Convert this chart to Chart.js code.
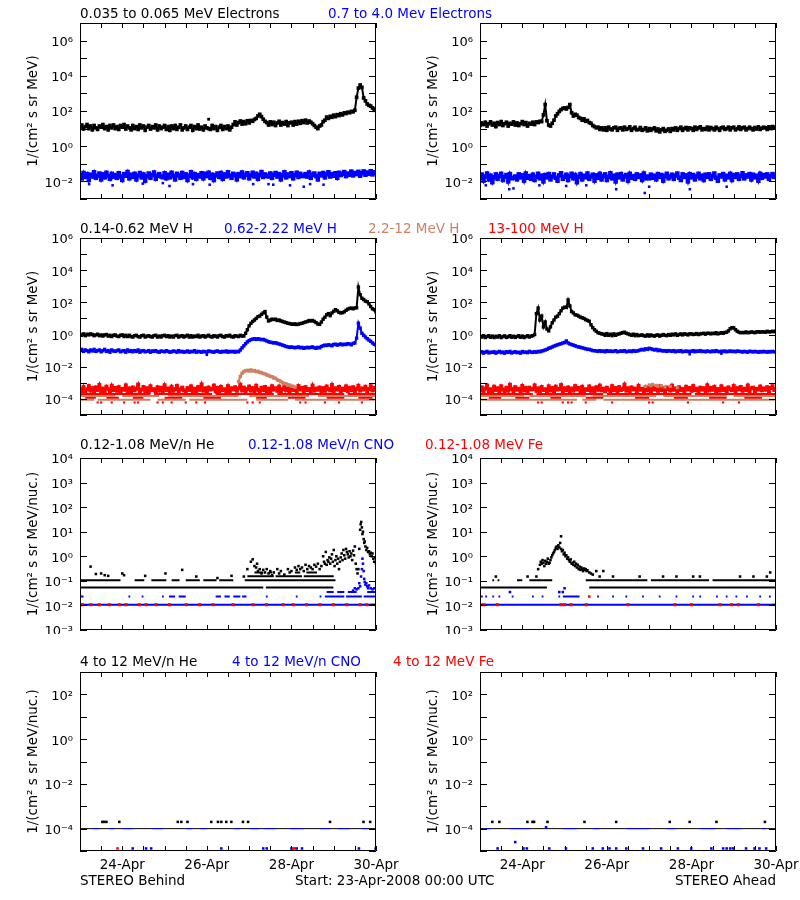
<!DOCTYPE html>
<html><head><meta charset="utf-8">
<script src="https://cdn.jsdelivr.net/npm/chart.js@4.4.1/dist/chart.umd.min.js"></script>
<style>
body{margin:0;background:#fff;width:800px;height:900px;position:relative;overflow:hidden;}
canvas{position:absolute;}
.t{position:absolute;font:13.5px 'DejaVu Sans',sans-serif;line-height:15px;white-space:pre;color:#000;}
</style></head><body>
<div id="wrap"></div>
<div class="t" style="left:80px;top:6px">0.035 to 0.065 MeV Electrons</div>
<div class="t" style="left:328px;top:6px;color:#0000ff">0.7 to 4.0 Mev Electrons</div>
<div class="t" style="left:80px;top:221px">0.14-0.62 MeV H</div>
<div class="t" style="left:224px;top:221px;color:#0000ff">0.62-2.22 MeV H</div>
<div class="t" style="left:368px;top:221px;color:#cc8064">2.2-12 MeV H</div>
<div class="t" style="left:488px;top:221px;color:#ff0000">13-100 MeV H</div>
<div class="t" style="left:80px;top:437px">0.12-1.08 MeV/n He</div>
<div class="t" style="left:248px;top:437px;color:#0000ff">0.12-1.08 MeV/n CNO</div>
<div class="t" style="left:425px;top:437px;color:#ff0000">0.12-1.08 MeV Fe</div>
<div class="t" style="left:80px;top:654px">4 to 12 MeV/n He</div>
<div class="t" style="left:232px;top:654px;color:#0000ff">4 to 12 MeV/n CNO</div>
<div class="t" style="left:393px;top:654px;color:#ff0000">4 to 12 MeV Fe</div>
<div class="t" style="left:80px;top:873px">STEREO Behind</div>
<div class="t" style="left:295px;top:873px">Start: 23-Apr-2008 00:00 UTC</div>
<div class="t" style="right:24px;top:873px">STEREO Ahead</div>
<script>
// ---------------- time axis (hours after 23-Apr-2008 00:00 UTC) ----------------
const SAMPLE_H = 1;                     // hourly samples
const xTickHours = [0,12,24,36,48,60,72,84,96,108,120,132,144,156,168];
const xLabelHours = [24,72,120,168];
const xLabelText = ['24-Apr','26-Apr','28-Apr','30-Apr'];

// ---------------- y decades per row ----------------
const yTicksRow1 = [-3,-2,-1,0,1,2,3,4,5,6,7];   const yLabelsRow1 = [6,4,2,0,-2];
const yTicksRow2 = [-5,-4,-3,-2,-1,0,1,2,3,4,5,6]; const yLabelsRow2 = [6,4,2,0,-2,-4];
const yTicksRow3 = [-3,-2,-1,0,1,2,3,4];          const yLabelsRow3 = [4,3,2,1,0,-1,-2,-3];
const yTicksRow4 = [-5,-4,-3,-2,-1,0,1,2,3];      const yLabelsRow4 = [2,0,-2,-4];

// ---------------- Row 1: electrons (hourly) ----------------
const eLowBehind = [12,16,9.5,13,17,10,14,8.5,15,11, 9,14,12,17,10,13,8.5,15,11,16, 10,13,9,15,12,17,9.5,14,11,8.5,
 15,10,13,9,16,11,14,8,12,15, 9.5,13,11,16,8.5,14,10,12,15,9, 13,8,14,10,15,9,12,16,8.5,11,
 14,9,12,15,8,13,10,16,9.5,12, 8.5,14,11,10,9,15,10,13,8,12, 15,9,13,10,14,8.5,12,
 17,24,16,22,27,18,25,19,28,21,29,26,33, 38,52,65,48,34,26,22, 16,24,17,23,15,21,26,16,22,18,25,15,21,
 23,16,25,18,26,20,28,22,30,21,27,23,19,15,12,10,
 14,16,25,30,45,38,50,44,58,48,62,55,70,60,78,72,85,80,95,90,110,
 600,2000,3000,2200,550,380,250,210,190,150,110,130];
const eLowBehindDots = [[73,34]];
const eHighBehind = [.022,.015,.030,.018,.026,.012,.024,.019,.033,.016, .021,.028,.013,.025,.017,.031,.020,.014,.027,.018,
 .023,.016,.029,.019,.012,.026,.021,.034,.015,.024, .018,.027,.013,.022,.030,.017,.025,.011,.020,.028,
 .016,.023,.032,.014,.021,.026,.019,.017,.029,.015, .024,.017,.031,.020,.013,.027,.022,.016,.030,.018,
 .025,.012,.021,.033,.017,.026,.014,.023,.019,.029, .015,.027,.020,.031,.016,.024,.012,.022,.028,.018,
 .030,.014,.025,.019,.033,.021,.016,.027,.023,.013, .026,.020,.032,.017,.024,.029,.015,.022,.031,.019,
 .027,.014,.023,.034,.018,.025,.021,.019,.028,.016, .024,.030,.019,.026,.013,.022,.033,.017,.025,.020,
 .029,.015,.023,.031,.018,.027,.021,.020,.026,.019, .032,.016,.024,.028,.020,.013,.027,.022,.030,.017,
 .025,.033,.019,.026,.021,.029,.016,.031,.023,.027, .034,.020,.028,.024,.036,.022,.030,.026,.035,.021,
 .029,.037,.024,.032,.027,.038,.025,.033,.030];
const eHighBehindDots = [[5.2,.007],[18.5,.006],[35.6,.0075],[47,.008],[50.8,.0055],[64.1,.007],[73.6,.0065],[98.3,.007],[107,.007],[109.7,.0065],[119.2,.006],[127,.005],[130.6,.007],[138.2,.0065]];
const eLowAhead = [15,21,17,23,14,19,24,16,20,13, 22,17,25,15,19,23,14,20,18,24, 16,21,15,19,25,17,22,14,20,18,
 23,17,24,22,26, 25,60,230,28,16,14,20,30,52,70,95, 120,140,150,130,160,230,80,52,65,58,43,
 38,30,36,26,29,22,20,15,13,11,12,9,11,8.5, 11,8,12,9.5,8.5,11,12,8,10.5,
 11,8.5,12,9,10,12.5,8,10,12,8.5, 9,11.5,8,9,11,7.5,10,8,9.5,11, 7.5,9.5,6.5,8.5,10,7,8,9.5,7,10,
 8.5,11,8,10,12,8,10,11.5,8.5,11, 10,8,12,9,11,12.5,8.5,10,9,12, 8.5,11.5,10,8.5,12,10,8,11,12,9,
 10,12,8.5,11,12,8.5,10,12.5,9,11, 12,8.5,10,12,10,8.5,11.5,9.5,12.5,9, 10.5,12,11,9,12.5,10,13,10.5,12];
const eHighAhead = [.016,.024,.011,.019,.028,.013,.021,.009,.017,.025, .014,.020,.027,.012,.018,.023,.010,.026,.015,.016,
 .019,.013,.025,.017,.022,.011,.028,.016,.020,.014, .024,.012,.018,.027,.015,.021,.010,.023,.017,.026,
 .013,.019,.025,.016,.011,.022,.029,.014,.018,.024, .012,.020,.027,.015,.023,.009,.018,.026,.013,.021,
 .017,.028,.014,.019,.024,.011,.022,.016,.027,.013, .020,.025,.012,.018,.029,.015,.021,.010,.024,.017,
 .026,.013,.019,.023,.011,.027,.016,.020,.014,.025, .018,.022,.012,.028,.015,.019,.015,.024,.016,.021,
 .013,.026,.018,.023,.011,.020,.027,.015,.019,.024, .014,.021,.028,.016,.012,.025,.018,.022,.010,.026,
 .017,.023,.013,.019,.027,.015,.021,.012,.024,.018, .025,.014,.020,.028,.016,.011,.022,.019,.026,.013,
 .021,.017,.027,.012,.023,.018,.025,.014,.020,.029, .015,.022,.019,.026,.013,.024,.017,.021,.011,.027,
 .016,.023,.019,.025,.014,.020,.026,.018,.022];
const eHighAheadDots = [[3.3,.006],[16.6,.0036],[19,.004],[33.7,.006],[48.9,.0055],[60.3,.006],[77.3,.0036],[93.5,.0022],[96,.005],[119.1,.0036],[140,.005]];

// ---------------- Row 2: protons (hourly) ----------------
const pLowBehind = [1.0,0.9,1.1,0.85,1.05,0.95,1.1,1.0,0.85,0.95, 1.05,0.85,0.95,0.8,0.95,1.0,0.8,0.9,0.75,0.9,
 0.95,0.8,0.75,0.9,0.95,0.75,0.9,0.75,0.9,0.75, 0.7,0.85,0.9,0.75,0.7,0.85,0.9,0.7,0.8,0.85,
 0.75,0.7,0.85,0.9,0.7,0.8,0.7,0.85,0.9,0.75, 0.85,0.7,0.8,0.7,0.85,0.9,0.7,0.8,0.85,0.7,
 0.8,0.9,0.7,0.85,0.7,0.8,0.75,0.9,0.7,0.8, 0.85,0.7,0.8,0.9,0.75,0.7,0.85,0.8,0.7,0.85,
 0.9,0.75,0.7,0.85,0.8,0.9,0.75,0.7,0.85,0.8, 0.75,0.9,0.8,0.82,1.2,2.0,3.5,5,6.5,8,
 10,13,14,18,22,27,12,7,8,9, 8.5,9,7.5,8,7,6.5,6,5.5,5,4.8, 4.5,4.3,4.6,4.2,4.4,4.8,5,5.5,6,6.5,
 7.4,7,7.5,6.5,5.5,4.5,4.3,6,9,12, 17,20,15,22,28,35,30,24,22,23, 26,32,38,42,44,40,45,46,900,300,
 180,150,120,110,80,55,40,35,25];
const pMidBehind = [.10,.12,.09,.11,.10,.085,.11,.095,.12,.09, .10,.11,.085,.10,.12,.09,.10,.08,.11,.095,
 .09,.10,.11,.085,.095,.10,.08,.11,.09,.10, .085,.10,.09,.11,.08,.095,.10,.085,.09,.10,
 .08,.095,.09,.10,.085,.08,.095,.09,.085,.10, .09,.08,.085,.095,.09,.08,.10,.085,.09,.08,
 .085,.095,.08,.09,.085,.10,.08,.09,.085,.08, .09,.085,.08,.095,.09,.085,.08,.09,.095,.085,
 .08,.09,.085,.095,.08,.09,.085,.09,.08,.09, .085,.11,.15,.2,.27,.35,.42,.48,.52,.55,
 .5,.55,.52,.48,.5,.45,.4,.36,.33,.32, .3,.31,.28,.26,.24,.22,.2,.18,.17,.16, .17,.16,.15,.16,.17,.15,.16,.14,.15,.16,
 .15,.16,.17,.15,.14,.16,.15,.18,.2,.22, .21,.23,.22,.2,.24,.25,.22,.24,.26,.23, .25,.24,.27,.26,.23,.28,.3,.6,5,2.5,
 1.2,.9,.7,.55,.45,.38,.3,.25,.22];
const pMidBehindDots = [[72,.055]];
const pHiHumpStartH = 90;
const pHiHumpBehind = [1.2e-3,2.5e-3,4.0e-3,5.0e-3,5.6e-3,6.0e-3,5.4e-3,6.3e-3,5.5e-3,5.8e-3,4.9e-3,5.2e-3,4.4e-3,4.3e-3,
 3.8e-3,3.6e-3,3.1e-3,2.9e-3,2.5e-3,2.4e-3,2.0e-3,1.9e-3,1.5e-3,1.4e-3,1.2e-3,1.0e-3,9.0e-4,8.6e-4,7.4e-4,7.2e-4,6.3e-4,6.0e-4,5.4e-4];
const pTopBehind = [4.1e-4,3.0e-4,5.6e-4,2.7e-4,3.9e-4,6.3e-4,3.3e-4,4.7e-4,2.5e-4,5.2e-4, 3.6e-4,7.4e-4,2.9e-4,4.4e-4,3.1e-4,5.8e-4,4.0e-4,2.6e-4,6.6e-4,3.5e-4,
 4.8e-4,3.2e-4,5.4e-4,2.8e-4,4.2e-4,3.7e-4,6.9e-4,3.0e-4,4.5e-4,2.6e-4, 5.1e-4,3.4e-4,4.3e-4,7.8e-4,2.9e-4,3.8e-4,5.5e-4,3.1e-4,4.6e-4,2.7e-4,
 6.1e-4,3.5e-4,4.0e-4,2.8e-4,5.3e-4,3.3e-4,4.9e-4,3.0e-4,7.1e-4,3.6e-4, 4.4e-4,2.6e-4,5.7e-4,3.2e-4,4.1e-4,6.4e-4,2.9e-4,3.9e-4,5.0e-4,3.4e-4,
 2.7e-4,4.7e-4,3.6e-4,6.0e-4,3.1e-4,4.3e-4,2.8e-4,5.4e-4,3.7e-4,8.0e-4, 3.3e-4,4.5e-4,2.6e-4,5.1e-4,3.8e-4,4.2e-4,6.7e-4,3.0e-4,4.8e-4,2.9e-4,
 5.6e-4,3.5e-4,4.0e-4,3.1e-4,6.2e-4,2.7e-4,4.6e-4,3.9e-4,5.3e-4,3.2e-4, 4.4e-4,7.6e-4,3.4e-4,5.0e-4,2.8e-4,4.1e-4,5.9e-4,3.3e-4,4.7e-4,3.0e-4,
 6.5e-4,3.7e-4,2.6e-4,4.9e-4,3.5e-4,5.5e-4,3.1e-4,4.3e-4,2.9e-4,6.1e-4, 3.8e-4,4.6e-4,3.2e-4,5.8e-4,2.7e-4,4.0e-4,7.0e-4,3.4e-4,4.5e-4,3.0e-4,
 5.2e-4,3.6e-4,4.2e-4,2.8e-4,6.3e-4,3.9e-4,4.8e-4,3.1e-4,5.4e-4,3.5e-4, 4.1e-4,2.6e-4,6.8e-4,3.3e-4,4.4e-4,3.7e-4,5.1e-4,2.9e-4,4.7e-4,3.2e-4,
 5.9e-4,4.0e-4,3.4e-4,7.3e-4,3.0e-4,4.6e-4,3.8e-4,5.6e-4,2.7e-4,4.3e-4, 3.6e-4,6.0e-4,3.1e-4,4.9e-4,3.5e-4,5.3e-4,2.8e-4,4.2e-4,6.6e-4,3.3e-4,
 4.5e-4,3.9e-4,5.7e-4,3.0e-4,4.1e-4,6.2e-4,3.4e-4,4.8e-4,3.7e-4];
const pLowAhead = [.8,.7,.85,.65,.75,.85,.68,.8,.65,.78, .7,.85,.65,.75,.82,.66,.74,.85,.68,.78, .66,.76,.84,.68,.8,.65,.75,.84,.7,.8,
 .85,1,20,44,8,14,3,6,2.2,1.7, 3,5.4,8,12,14,20,30,44,50,48, 140,60,27,22,17,16,14,12,11,10,
 8.5,7.5,6.7,4,2.7,2,1.6,1.3,1.2,1.1, 1.05,0.9,1.15,0.9,1.05,0.85,1.1,0.9,1.05,1.1, 1.2,1.3,1.4,1.2,1.1,1,0.9,1.05,0.85,1.0,
 0.85,0.9,0.95,0.85,0.8,0.95,0.8,0.95,0.85,0.8, 0.9,0.95,0.8,0.9,1,0.9,0.85,1,0.9,1.05, 0.95,1.1,0.9,1,1.1,0.95,1.1,1.05,0.95,1.1,
 1.1,1.0,1.05,1.15,1.0,1.1,1.15,1.2,1.05,1.2, 1.2,1.1,1.2,1.15,1.3,1.1,1.2,1.3,1.2,1.35, 1.4,1.7,2.3,2.7,2.6,2,1.6,1.4,1.3,1.35,
 1.3,1.45,1.3,1.35,1.45,1.4,1.3,1.45,1.5,1.4, 1.5,1.45,1.4,1.6,1.45,1.5,1.6,1.5,1.7];
const pMidAhead = [.075,.085,.07,.08,.09,.072,.08,.078,.085,.07, .08,.09,.075,.082,.07,.085,.078,.09,.072,.08,
 .085,.075,.08,.07,.088,.078,.082,.075,.09,.08, .078,.085,.08,.09,.085,.095,.1,.11,.12,.14,
 .15,.17,.19,.21,.23,.25,.27,.3,.32,.4, .3,.26,.24,.22,.2,.18,.17,.16,.15,.14, .13,.12,.12,.11,.1,.1,.095,.09,.1,.09,
 .095,.085,.1,.09,.095,.088,.092,.1,.085,.09, .095,.09,.1,.085,.09,.095,.088,.1,.09,.095, .1,.11,.12,.11,.13,.12,.14,.13,.12,.11,
 .12,.1,.11,.1,.095,.1,.09,.1,.095,.09, .1,.085,.095,.09,.1,.085,.09,.095,.088,.09, .09,.1,.085,.095,.09,.1,.088,.092,.085,.095,
 .09,.085,.095,.088,.1,.09,.085,.092,.088,.095, .085,.09,.095,.088,.092,.085,.095,.09,.088,.082, .09,.085,.08,.092,.088,.083,.09,.085,.08,.088,
 .082,.09,.085,.08,.088,.083,.09,.085,.082];
const pMidAheadDots = [[119,.06],[137,.065]];
const pHiAhead = [[94,6e-4],[96,7.5e-4],[97,6.5e-4],[98,8e-4],[100,7e-4],[101,6e-4],[103,6.5e-4],[105,5.5e-4],[108,6e-4],[112,5e-4]];
const pTopAhead = [3.5e-4,5.2e-4,2.8e-4,4.4e-4,6.8e-4,3.1e-4,4.0e-4,2.6e-4,5.7e-4,3.6e-4, 4.6e-4,3.0e-4,6.1e-4,3.8e-4,2.9e-4,4.9e-4,3.3e-4,7.5e-4,4.2e-4,2.7e-4,
 5.4e-4,3.7e-4,4.3e-4,3.0e-4,6.4e-4,3.4e-4,4.8e-4,2.8e-4,5.0e-4,3.9e-4, 4.1e-4,6.9e-4,3.2e-4,4.5e-4,2.6e-4,5.5e-4,3.6e-4,4.0e-4,3.1e-4,6.0e-4,
 3.4e-4,4.7e-4,2.9e-4,5.8e-4,3.8e-4,4.2e-4,7.2e-4,3.0e-4,4.6e-4,3.5e-4, 5.1e-4,2.7e-4,4.4e-4,3.3e-4,6.3e-4,3.9e-4,4.8e-4,3.1e-4,5.6e-4,2.8e-4,
 4.0e-4,3.6e-4,5.9e-4,3.2e-4,4.5e-4,2.6e-4,5.3e-4,3.7e-4,6.7e-4,3.4e-4, 4.3e-4,3.0e-4,5.0e-4,3.8e-4,2.9e-4,6.2e-4,3.5e-4,4.7e-4,3.1e-4,5.4e-4,
 3.6e-4,4.1e-4,7.7e-4,3.3e-4,4.6e-4,2.8e-4,5.2e-4,3.9e-4,4.4e-4,3.0e-4, 6.5e-4,3.7e-4,4.2e-4,2.7e-4,5.5e-4,3.4e-4,4.9e-4,3.1e-4,5.8e-4,3.8e-4,
 4.4e-4,3.2e-4,6.0e-4,3.5e-4,4.7e-4,2.9e-4,5.1e-4,4.0e-4,3.3e-4,6.6e-4, 3.7e-4,4.5e-4,3.0e-4,5.3e-4,3.6e-4,4.2e-4,2.6e-4,5.7e-4,3.9e-4,4.8e-4,
 3.2e-4,6.3e-4,3.5e-4,4.3e-4,2.8e-4,5.0e-4,3.8e-4,4.6e-4,3.1e-4,7.0e-4, 3.4e-4,4.9e-4,3.7e-4,5.6e-4,2.9e-4,4.1e-4,3.3e-4,6.1e-4,3.6e-4,4.4e-4,
 3.0e-4,5.2e-4,4.0e-4,3.5e-4,6.4e-4,2.7e-4,4.7e-4,3.9e-4,5.5e-4,3.2e-4, 4.3e-4,3.6e-4,6.8e-4,3.1e-4,4.6e-4,5.0e-4,2.8e-4,4.2e-4,3.8e-4,5.9e-4,
 3.4e-4,4.5e-4,3.7e-4,5.3e-4,3.0e-4,4.8e-4,6.2e-4,3.6e-4,4.1e-4];
// count-quantised floors (value, [startH,endH] spans)
const pTopFloor1Behind = [[0,40],[42,75],[77,110],[112,150],[152,168]];        // 2.0e-4
const pHiFloor1Behind  = [[0,20],[24,45],[50,90],[96,130],[135,168]];          // 1.5e-4
const pTopFloor2Behind = [[3,9],[15,22],[30,36],[48,58],[70,80],[100,106],[118,128],[140,150],[158,166]]; // 1.2e-4
const pHiFloor2Behind  = [[0,8],[10,40],[44,60],[62,95],[100,118],[122,168]];  // 9e-5
const pTopLowDotsBehind = [10,12,18,25,31,33,44,47,52,60,66,71,95,98,102,125,128,139,147,160]; // 6e-5
const pTopFloor1Ahead = [[0,30],[32,70],[72,120],[122,168]];
const pHiFloor1Ahead  = [[0,25],[28,60],[64,100],[104,140],[144,168]];
const pTopFloor2Ahead = [[5,12],[20,28],[40,46],[60,70],[88,96],[110,118],[130,140],[150,160]];
const pHiFloor2Ahead  = [[0,55],[58,66],[70,168]];
const pTopLowDotsAhead = [33,35,47,50,52,60,75,96,98,118,138,147];

// ---------------- Row 3: 0.12-1.08 MeV/n ions ----------------
const heLevel1Behind = [[0.5,104],[105.5,143.8]];                       // 0.054
const heLevel2Behind = [[0.5,23],[31,36.5],[40.5,49],[52,56.5],[60,68],[70,77.5],[79,87],[93.5,145]]; // 0.107
const heLevel3Behind = [[95,110],[111,126],[127,144]];                   // 0.155
const heLevel4Behind = [[99,104],[107,109],[122,125],[128.5,134.5]];    // 0.22
const heDotsBehind = [[6,0.38],[9,0.19],[12,0.2],[14,0.17],[16,0.16],[24,0.2],[25,0.17],[37,0.16],[48.5,0.2],[58,0.28],[66,0.15],[78,0.13],[86,0.16],
 [93,0.15],[95,0.3],[97,0.6],[98,0.75],[99,0.4],[100,0.35],[100.5,0.5],[101,0.25],[102,0.3],[103,0.2],[104,0.28],[105,0.22],[106,0.3],[107,0.2],
 [108,0.25],[109,0.17],[110,0.22],[112,0.3],[113,0.2],[114,0.25],[116,0.18],[118,0.3],[119,0.22],[120,0.25],[122,0.35],[123,0.28],[124,0.4],
 [125,0.3],[126,0.35],[127,0.25],[128,0.45],[129,0.3],[130,0.4],[131,0.35],[132,0.3],[133,0.45],[134,0.38],[135,0.5],[136,0.3],[137,0.4],
 [138,1.0],[138.5,0.6],[139,0.5],[139.5,1.5],[140,0.45],[140.5,0.7],[141,0.6],[141.5,0.9],[142,0.5],[142.5,0.8],[143,1.2],[143.5,0.6],[144,1.8],
 [144.5,0.4],[145,0.7],[145.5,1.0],[146,0.5],[146.5,0.8],[147,0.3],[147.5,0.6],[148,0.9],[148.5,1.3],[149,0.7],[149.5,1.8],[150,1.1],[150.5,0.8],
 [151,2.0],[151.5,1.5],[152,1.2],[152.5,0.9],[153,1.6],[153.5,1.0],[154,1.3],[154.5,0.7],[155,1.7],[155.5,1.1],[156,2.5],[156.5,0.5],[157,0.3],
 [157.5,0.2],[158,0.3],[158.5,2.0],[159,12],[159.3,20],[159.6,25],[160,15],[160.3,8],[160.6,10],[161,5],[161.3,3.5],[161.6,4],[162,2.5],
 [162.5,1.8],[163,2.2],[163.5,1.5],[164,1.6],[164.5,1.2],[165,1.4],[165.5,1.0],[166,1.3],[166.5,0.8],[167,0.6],[167.5,0.9],[168,0.5]];
const cnoLevel1Behind = [[0,168]];                                        // 0.0107
const cnoLevel2Behind = [[0,2],[27.5,28.5],[35,36],[46.5,47.5],[50.5,54],[56,60],[77,80],[82,85],[87,91],[92,94.5],[105.5,106.5],[122.5,123.5],[136,137],[139,150],[151,160],[161,168]]; // 0.023
const cnoLevel3Behind = [[140,144],[146,150],[152,157],[163,168]];        // 0.035
const cnoDotsBehind = [[155,0.04],[156,0.05],[157,0.045],[158,0.05],[158.5,0.08],[159,0.06],[159.5,0.15],[160,0.3],[160.3,0.8],[160.6,0.5],
 [161,0.25],[161.3,0.12],[161.6,0.09],[162,0.07],[162.5,0.08],[163,0.06],[163.5,0.05],[164,0.065],[165,0.05],[166,0.045],[167,0.05]];
const feHoursBehind = [1.4,6.2,11,16.6,22.3,26.1,33.7,37.5,43.2,50.8,60.3,67.9,75.5,86.9,98.2,105.8,115.3,121,128.6,136.2,143.8,151.4,159,162.8]; // 0.0107
const heFloorBehind = [[0,2],[165,168]];                                   // 0.0107

const heLevel1Ahead = [[0.5,38],[62,168]];
const heLevel2Ahead = [[7,8],[10,11],[21,24],[28,41],[60,95],[97,130],[132,168]];
const heDotsAhead = [[9,0.15],[27,0.15],[67.9,0.15],[75.5,0.15],[90.6,0.15],[103.9,0.15],[111.5,0.15],[121,0.15],[124.8,0.15],[147.6,0.15],[155.2,0.15],[162.8,0.15],[164.7,0.22],
 [32,0.15],[33,0.3],[34,0.45],[34.5,0.6],[35,0.5],[35.5,0.7],[36,0.55],[36.5,0.4],[37,0.65],[37.5,0.5],[38,0.6],[38.5,0.8],[39,0.5],[39.5,0.55],
 [40,0.7],[40.5,0.9],[41,1.1],[41.5,1.3],[42,1.5],[42.5,1.8],[43,2.2],[43.5,2.5],[44,2.0],[44.5,2.8],[45,2.3],[45.5,3.5],[46,6.5],[46,2],
 [46.5,1.6],[47,1.8],[47.5,1.2],[48,1.4],[48.5,1.0],[49,1.1],[49.5,0.8],[50,0.9],[50.5,0.7],[51,0.6],[51.5,0.75],[52,0.5],[52.5,0.55],[53,0.45],
 [53.5,0.6],[54,0.4],[54.5,0.5],[55,0.35],[55.5,0.45],[56,0.3],[56.5,0.38],[57,0.28],[57.5,0.35],[58,0.3],[58.5,0.25],[59,0.32],[59.5,0.28],
 [60,0.3],[60.5,0.25],[61,0.27],[62,0.22],[63,0.2],[64,0.18],[66,0.25],[70,0.25]];
const cnoLevel1Ahead = [[0,168]];
const cnoLevel2Ahead = [[0,1.5],[3,4],[7,8],[10.5,11.5],[18,19],[29.5,30.5],[35,36],[44.5,45.5],[47,56.5],[66.5,67.5],[75,76],[82.5,83.5],[92,93],[101.5,102.5],[111,112],[120.5,121.5],[124.5,125.5],[134,135],[139.5,140.5],[145,146],[151,152],[158.5,159.5],[164,165]];
const cnoDotsAhead = [[17,0.035],[45,0.035],[47,0.035],[48,0.05]];
const feHoursAhead = [2.2,9.8,46,48,51.7,60.3,84,110.6,120,136.2,142.8,146.6,158];
const feDotsAhead = [[62,0.023]];
const heFloorAhead = [[0,1.5],[166,168]];

// ---------------- Row 4: 4-12 MeV/n ions ----------------
const hiIonLineSpan = [[0,168]];                       // 1e-4 (zero-count level)
const cnoDashBehind = [[7,11],[16.5,19.5],[24,30],[41,47],[60,64],[68,72],[87,91],[96,102],[104,111],[119,127],[136,142],[146,153],[160,163]];
const heHoursBehind = [12.7,13.7,15,22.3,55.5,57.5,61,74.5,78.3,80.2,83,85.9,92.5,95.4,141.9,160.9,164.7]; // 2e-4
const cnoLowHoursBehind = [29.9,37.5,40.4,80.2,104,106,120,123,126,158.3,167.8];                          // 1.3e-5
const feLowHoursBehind = [21.3,121,122];                                                                  // 1.3e-5
const cnoDashAhead = [[3,6],[17,28],[47,55],[64,68],[83,96],[106,111],[125,134],[140,148],[160,162]];
const heHoursAhead = [7,11,26.9,29.8,30.7,38.3,59.3,77.3,107.7,119,134.2,161.7];
const cnoLowHoursAhead = [10,24.7,26.6,39.3,48.8,64,69.7,73.5,77.3,83,92.5,102.8,112.3,119.9,131.3,138,140,142,143.6,151,155.8,158.6,162.4];
const cnoMidAhead = [[20,2.5e-5],[37.5,1.15e-4]];

// ================= rendering =================
const C = {k:'#000000', b:'#0000ff', r:'#ff0000', br:'#cc8064'};
const SUP = {'0':'⁰','1':'¹','2':'²','3':'³','4':'⁴','5':'⁵','6':'⁶','7':'⁷','8':'⁸','9':'⁹','-':'⁻'};
const pow10Label = e => '10' + String(e).split('').map(c => SUP[c]).join('');

const hourly = (arr, start = 0) => arr.map((v, i) => ({x: start + i * SAMPLE_H, y: v}));
const pairs = arr => arr.map(([h, v]) => ({x: h, y: v}));
const at = (v, hours) => hours.map(h => ({x: h, y: v}));
const level = (v, spans) => { const d = []; spans.forEach(([a, b]) => { d.push({x: a, y: v}, {x: b, y: v}, {x: b, y: null}); }); return d; };

const pts = (data, color, r) => ({data, backgroundColor: color, borderColor: color, pointStyle: 'rect', pointRadius: r, pointBorderWidth: 0, showLine: false});
// dense 1-minute style trace: square markers joined by a thin line so the noisy band fills in
const band = (data, color, r, w) => ({data, backgroundColor: color, borderColor: color, pointStyle: 'rect', pointRadius: r, pointBorderWidth: 0, showLine: true, borderWidth: w, spanGaps: false, tension: 0});
const line = (data, color, w) => ({data, borderColor: color, backgroundColor: color, borderWidth: w, pointRadius: 0, showLine: true, spanGaps: false, fill: false, tension: 0});

const ROWS = [
  {top: 23, h: 180, ticks: yTicksRow1, labels: yLabelsRow1, title: '1/(cm² s sr MeV)', showX: false},
  {top: 238, h: 181, ticks: yTicksRow2, labels: yLabelsRow2, title: '1/(cm² s sr MeV)', showX: false},
  {top: 458, h: 176, ticks: yTicksRow3, labels: yLabelsRow3, title: '1/(cm² s sr MeV/nuc.)', showX: false},
  {top: 672, h: 179, ticks: yTicksRow4, labels: yLabelsRow4, title: '1/(cm² s sr MeV/nuc.)', showX: true},
];

const framePlugin = {
  id: 'frame',
  afterDatasetsDraw(chart) {
    const {ctx, chartArea: a, scales: {x, y}} = chart;
    ctx.save();
    ctx.strokeStyle = '#000'; ctx.lineWidth = 1;
    ctx.beginPath();
    ctx.rect(a.left + 0.5, a.top + 0.5, a.right - a.left - 1, a.bottom - a.top - 1);
    y.ticks.forEach(t => {
      const py = Math.round(y.getPixelForValue(t.value)) + 0.5;
      ctx.moveTo(a.left, py); ctx.lineTo(a.left + 7, py);
      ctx.moveTo(a.right, py); ctx.lineTo(a.right - 7, py);
    });
    x.ticks.forEach(t => {
      const px = Math.round(x.getPixelForValue(t.value)) + 0.5;
      ctx.moveTo(px, a.bottom); ctx.lineTo(px, a.bottom - 5);
      ctx.moveTo(px, a.top); ctx.lineTo(px, a.top + 5);
    });
    ctx.stroke();
    ctx.restore();
  }
};

function panel(rowIdx, col, datasets) {
  const row = ROWS[rowIdx];
  const xH = row.showX ? 30 : 0;
  const cv = document.createElement('canvas');
  cv.width = 400; cv.height = 10 + row.h + xH;
  cv.style.left = (col * 400) + 'px';
  cv.style.top = (row.top - 10) + 'px';
  document.getElementById('wrap').appendChild(cv);
  const font = {family: "'DejaVu Sans', sans-serif", size: 13};
  new Chart(cv, {
    type: 'scatter',
    data: {datasets},
    plugins: [framePlugin],
    options: {
      responsive: false, animation: false, devicePixelRatio: 1, events: [],
      layout: {padding: {top: 10, right: 24, left: 0, bottom: 0}},
      plugins: {legend: {display: false}, tooltip: {enabled: false}},
      scales: {
        x: {
          type: 'linear', min: 0, max: 168,
          afterBuildTicks: s => { s.ticks = xTickHours.map(v => ({value: v})); },
          afterFit: s => { s.height = xH; s.paddingLeft = 0; s.paddingRight = 0; },
          grid: {display: false, drawTicks: false}, border: {display: false},
          ticks: {display: row.showX, autoSkip: false, maxRotation: 0, padding: 6, color: '#000', font: {...font, size: 13.5},
            callback: v => { const i = xLabelHours.indexOf(v); return i >= 0 ? xLabelText[i] : ''; }}
        },
        y: {
          type: 'logarithmic', min: Math.pow(10, row.ticks[0]), max: Math.pow(10, row.ticks[row.ticks.length - 1]),
          afterBuildTicks: s => { s.ticks = row.ticks.map(e => ({value: Math.pow(10, e)})); },
          afterFit: s => { s.width = 80; s.paddingTop = 0; s.paddingBottom = 0; },
          grid: {display: false, drawTicks: false}, border: {display: false},
          ticks: {autoSkip: false, padding: 7, labelOffset: 2, color: '#000', font,
            callback: v => { const e = Math.round(Math.log10(v)); return row.labels.includes(e) ? pow10Label(e) : ''; }},
          title: {display: true, text: row.title, color: '#000', font: {...font, size: 13.5}, padding: {top: 25, bottom: 0}}
        }
      }
    }
  });
}

// Row 1
panel(0, 0, [pts(pairs(eLowBehindDots), C.k, 2), band(hourly(eLowBehind), C.k, 2.6, 2),
             pts(pairs(eHighBehindDots), C.b, 1.8), band(hourly(eHighBehind), C.b, 3.2, 2.5)]);
panel(0, 1, [band(hourly(eLowAhead), C.k, 2.6, 2),
             pts(pairs(eHighAheadDots), C.b, 1.8), band(hourly(eHighAhead), C.b, 3.2, 2.5)]);
// Row 2
panel(1, 0, [
  band(hourly(pLowBehind), C.k, 2.4, 2), pts(pairs(pMidBehindDots), C.b, 1.8), band(hourly(pMidBehind), C.b, 2.4, 2),
  band(hourly(pHiHumpBehind, pHiHumpStartH), C.br, 2.4, 2),
  band(hourly(pTopBehind), C.r, 2.8, 2.5),
  line(level(2.0e-4, pTopFloor1Behind), C.r, 2), line(level(1.5e-4, pHiFloor1Behind), C.br, 2),
  line(level(1.2e-4, pTopFloor2Behind), C.r, 2), line(level(9e-5, pHiFloor2Behind), C.br, 2),
  pts(at(6e-5, pTopLowDotsBehind), C.r, 1.5)
]);
panel(1, 1, [
  band(hourly(pLowAhead), C.k, 2.4, 2), pts(pairs(pMidAheadDots), C.b, 1.8), band(hourly(pMidAhead), C.b, 2.4, 2),
  pts(pairs(pHiAhead), C.br, 2.2),
  band(hourly(pTopAhead), C.r, 2.8, 2.5),
  line(level(2.0e-4, pTopFloor1Ahead), C.r, 2), line(level(1.5e-4, pHiFloor1Ahead), C.br, 2),
  line(level(1.2e-4, pTopFloor2Ahead), C.r, 2), line(level(9e-5, pHiFloor2Ahead), C.br, 2),
  pts(at(6e-5, pTopLowDotsAhead), C.r, 1.5)
]);
// Row 3
panel(2, 0, [
  pts(at(0.0107, feHoursBehind), C.r, 2.2),
  line(level(0.0107, heFloorBehind), C.k, 2),
  pts(pairs(cnoDotsBehind), C.b, 1.8),
  line(level(0.0107, cnoLevel1Behind), C.b, 2), line(level(0.023, cnoLevel2Behind), C.b, 2), line(level(0.035, cnoLevel3Behind), C.b, 2),
  pts(pairs(heDotsBehind), C.k, 1.8),
  line(level(0.054, heLevel1Behind), C.k, 2), line(level(0.107, heLevel2Behind), C.k, 2),
  line(level(0.155, heLevel3Behind), C.k, 2), line(level(0.22, heLevel4Behind), C.k, 2)
]);
panel(2, 1, [
  pts(at(0.0107, feHoursAhead), C.r, 2.2), pts(pairs(feDotsAhead), C.r, 1.8),
  line(level(0.0107, heFloorAhead), C.k, 2),
  pts(pairs(cnoDotsAhead), C.b, 1.8),
  line(level(0.0107, cnoLevel1Ahead), C.b, 2), line(level(0.023, cnoLevel2Ahead), C.b, 2),
  pts(pairs(heDotsAhead), C.k, 1.8),
  line(level(0.054, heLevel1Ahead), C.k, 2), line(level(0.107, heLevel2Ahead), C.k, 2)
]);
// Row 4
panel(3, 0, [
  pts(at(1.3e-5, feLowHoursBehind), C.r, 1.8), pts(at(1.3e-5, cnoLowHoursBehind), C.b, 1.8),
  pts(at(2e-4, heHoursBehind), C.k, 1.8),
  line(level(1e-4, cnoDashBehind), C.b, 1), line(level(1e-4, hiIonLineSpan), C.k, 1)
]);
panel(3, 1, [
  pts(pairs(cnoMidAhead), C.b, 1.8), pts(at(1.3e-5, cnoLowHoursAhead), C.b, 1.8),
  pts(at(2e-4, heHoursAhead), C.k, 1.8),
  line(level(1e-4, cnoDashAhead), C.b, 1), line(level(1e-4, hiIonLineSpan), C.k, 1)
]);
</script>
</body></html>
